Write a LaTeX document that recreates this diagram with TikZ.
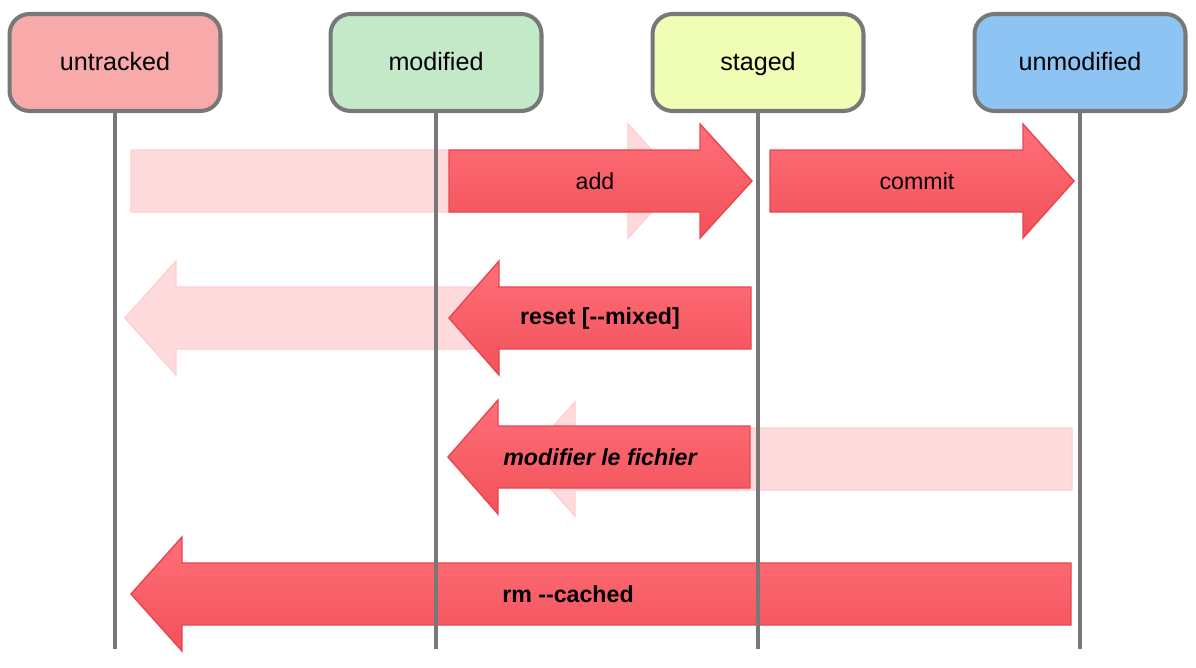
\documentclass[tikz,border=0pt]{standalone}
\usepackage{fontspec}
\setmainfont{Liberation Sans}

\definecolor{lanegray}{HTML}{787878}
\definecolor{untrackedfill}{HTML}{F8A9A9}
\definecolor{modifiedfill}{HTML}{C3E9C9}
\definecolor{stagedfill}{HTML}{EFFDB5}
\definecolor{unmodifiedfill}{HTML}{8EC4F4}
\definecolor{arrtop}{HTML}{FF6F78}
\definecolor{arrbot}{HTML}{F2515A}
\definecolor{arredge}{HTML}{E8464F}
\definecolor{ghostfill}{HTML}{FFDADC}
\definecolor{ghostedge}{HTML}{FFCED2}

\tikzset{
  state/.style={draw=lanegray, line width=2.3pt, rounded corners=0.4cm,
    minimum width=4.22cm, minimum height=1.94cm,
    text height=11.5pt, text depth=2pt,
    font=\fontsize{14.3}{17}\selectfont},
  lane/.style={draw=lanegray, line width=2.1pt},
  hot/.style={top color=arrtop, bottom color=arrbot, draw=arredge, line width=0.8pt},
  ghost/.style={fill=ghostfill, draw=ghostedge, line width=0.8pt},
  lbl/.style={font=\fontsize{13.2}{16}\selectfont}
}

% #1 style, #2 tail x, #3 head base x, #4 tip x, #5 middle y
\newcommand{\bigarrow}[5]{%
  \draw[#1] (#2,#5-31) -- (#3,#5-31) -- (#3,#5-57) -- (#4,#5)
    -- (#3,#5+57) -- (#3,#5+31) -- (#2,#5+31) -- cycle;}

\begin{document}
\begin{tikzpicture}[x=0.02cm, y=-0.02cm]
    \useasboundingbox (0,0) rectangle (1196,667);
    % faded moves
    \bigarrow{ghost}{131}{628}{680}{181}
    \bigarrow{ghost}{499}{176}{125}{318}
    \bigarrow{ghost}{1072}{575}{524}{459}
    % real moves
    \bigarrow{hot}{449}{700}{752}{181}
    \bigarrow{hot}{770}{1023}{1074}{181}
    \bigarrow{hot}{751}{499}{449}{318}
    \bigarrow{hot}{750}{498}{448}{457}
    \bigarrow{hot}{1071}{182}{131}{594}
    \node[lbl] (add) at (595,181) {add};
    \node[lbl] (commit) at (917,181) {commit};
    \node[lbl, font=\fontsize{13.2}{16}\selectfont\bfseries] (reset) at (600,318) {reset [{-}{-}mixed]};
    \node[lbl, font=\fontsize{13.2}{16}\selectfont\bfseries\itshape] (modif) at (600,457) {modifier le fichier};
    \node[lbl, font=\fontsize{13.2}{16}\selectfont\bfseries] (rm) at (568,594) {rm {-}{-}cached};
    % states and their lanes
    \foreach \name/\x in {untracked/115,modified/436,staged/758,unmodified/1080}
    {
        \node[state, fill=\name fill] (\name) at (\x,62.5) {\name};
        \draw[lane] (\name.south) -- ++(0,536);
    }
\end{tikzpicture}
\end{document}
